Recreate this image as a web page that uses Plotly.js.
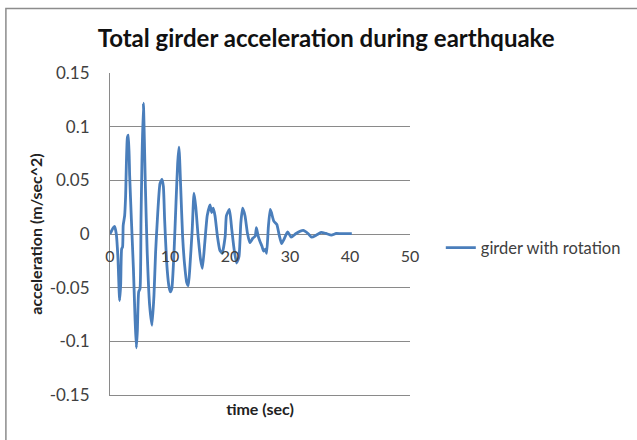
<!DOCTYPE html>
<html>
<head>
<meta charset="utf-8">
<script src="https://cdn.plot.ly/plotly-3.0.1.min.js"></script>
<style>html,body{margin:0;padding:0;background:#fff;}#chart{width:637px;height:440px;}</style>
</head>
<body>
<div id="chart"></div>
<script>
// time (sec)
const time = [0, 0.56, 0.78, 1.05, 1.33, 1.6, 1.78, 1.94, 2.1, 2.2, 2.44, 2.6, 2.9, 3.06, 3.28, 3.56, 3.9, 4.17, 4.39, 4.56, 4.78, 5.0, 5.17, 5.33, 5.56, 5.9, 6.2, 6.6, 7.0, 7.33, 7.6, 7.9, 8.33, 8.67, 8.9, 9.1, 9.44, 9.8, 10.05, 10.3, 10.67, 11.0, 11.28, 11.5, 11.78, 12.1, 12.44, 12.78, 13.05, 13.3, 13.7, 14.0, 14.3, 14.7, 15.1, 15.4, 15.8, 16.2, 16.67, 16.94, 17.2, 17.5, 17.9, 18.3, 18.7, 19.2, 19.4, 19.9, 20.3, 20.7, 21.1, 21.5, 21.8, 22.1, 22.5, 22.9, 23.3, 23.8, 24.2, 24.4, 24.7, 25.0, 25.3, 25.6, 25.9, 26.1, 26.4, 26.7, 26.9, 27.3, 27.8, 28.2, 28.6, 29.0, 29.6, 30.2, 31.0, 32.2, 33.0, 33.6, 34.4, 35.2, 36.0, 36.9, 37.7, 38.5, 39.5, 40.3];
// acceleration (m/sec^2), girder with rotation
const accel = [0, 0.006, 0.007, 0, -0.023, -0.062, -0.047, -0.014, -0.012, 0.008, 0.017, 0.035, 0.090, 0.092, 0.054, 0.014, -0.032, -0.078, -0.106, -0.09, -0.054, -0.051, 0.014, 0.069, 0.122, 0.044, -0.017, -0.066, -0.085, -0.057, -0.017, 0.014, 0.047, 0.051, 0.044, 0.014, -0.026, -0.048, -0.054, -0.051, -0.017, 0.029, 0.066, 0.081, 0.044, -0.002, -0.029, -0.045, -0.048, -0.032, 0.004, 0.038, 0.025, -0.003, -0.024, -0.032, -0.008, 0.017, 0.027, 0.02, 0.024, 0.017, -0.002, -0.015, -0.018, -0.002, 0.017, 0.023, 0.004, -0.015, -0.027, -0.021, 0.01, 0.024, 0.017, 0.001, -0.008, -0.004, -0.002, 0.006, -0.002, -0.007, -0.011, -0.016, -0.014, -0.018, 0.007, 0.023, 0.02, 0.012, 0.009, -0.001, -0.009, -0.005, 0.002, -0.003, 0.0005, 0.0034, 0.0005, -0.003, -0.001, 0.0015, 0.0005, -0.001, 0.0005, 0.0003, 0.0003, 0.0003];
const seriesName = 'girder with rotation';
const yTickVals = [-0.15, -0.1, -0.05, 0, 0.05, 0.1, 0.15];
const yTickText = ['-0.15', '-0.1', '-0.05', '0', '0.05', '0.1', '0.15'];
const xTickVals = [0, 10, 20, 30, 40, 50];
const xTickText = ['0', '10', '20', '30', '40', '50'];
const chartTitle = 'Total girder acceleration during earthquake';
const xTitle = 'time (sec)';
const yTitle = 'acceleration (m/sec^2)';

const FONT = 'Lato, "Open Sans", sans-serif';
const GRID = '#8a8a8a';

const traces = [{
  x: time, y: accel, type: 'scatter', mode: 'lines', name: seriesName,
  line: {color: '#4a7ebb', width: 2.8, shape: 'spline', smoothing: 0.5},
  xaxis: 'x', yaxis: 'y', showlegend: true
}, {
  // carries the bottom axis that holds the x-axis title
  x: [], y: [], type: 'scatter', mode: 'lines', xaxis: 'x2', yaxis: 'y',
  showlegend: false, hoverinfo: 'skip'
}];

const layout = {
  width: 637, height: 440,
  margin: {l: 110, r: 227, t: 73, b: 45, autoexpand: false},
  paper_bgcolor: '#ffffff', plot_bgcolor: '#ffffff',
  font: {family: FONT, color: '#404040', size: 16},
  title: {text: '<b>' + chartTitle + '</b>', font: {family: FONT, size: 24, color: '#111'},
          x: 0.512, xanchor: 'center', y: 0.912, yanchor: 'middle', xref: 'container', yref: 'container'},
  xaxis: {range: [0, 50], tickvals: xTickVals, ticktext: xTickText, anchor: 'free', position: 0.5,
          showgrid: false, zeroline: false, showline: false, ticks: '', ticklabelstandoff: 11,
          tickfont: {family: FONT, size: 16, color: '#404040'}, fixedrange: true},
  xaxis2: {range: [0, 50], overlaying: 'x', anchor: 'y', side: 'bottom', showticklabels: false,
           showgrid: false, zeroline: false, showline: true, linecolor: GRID, linewidth: 1, ticks: '',
           title: {text: '<b>' + xTitle + '</b>', font: {family: FONT, size: 16, color: '#222'}, standoff: 8}},
  yaxis: {range: [-0.15, 0.15], tickvals: yTickVals, ticktext: yTickText, domain: [0, 1],
          showgrid: true, gridcolor: GRID, gridwidth: 1, zeroline: false,
          showline: true, linecolor: GRID, linewidth: 1, ticks: '', ticklabelstandoff: 16,
          tickfont: {family: FONT, size: 17, color: '#404040'},
          title: {text: '<b>' + yTitle + '</b>', font: {family: FONT, size: 16, color: '#222'}, standoff: 3}},
  showlegend: true,
  legend: {xref: 'container', x: 0.692, y: 0.457, xanchor: 'left', yanchor: 'middle', bgcolor: 'rgba(0,0,0,0)',
           font: {family: FONT, size: 16.5, color: '#404040'}},
  shapes: [{type: 'rect', xref: 'paper', yref: 'paper', x0: -0.347, x1: 1.8, y0: -0.2, y1: 1.2,
            line: {color: '#8c8c8c', width: 1.5}, fillcolor: 'rgba(0,0,0,0)', layer: 'below'}]
};

Plotly.newPlot('chart', traces, layout, {displayModeBar: false, staticPlot: true});
</script>
</body>
</html>
